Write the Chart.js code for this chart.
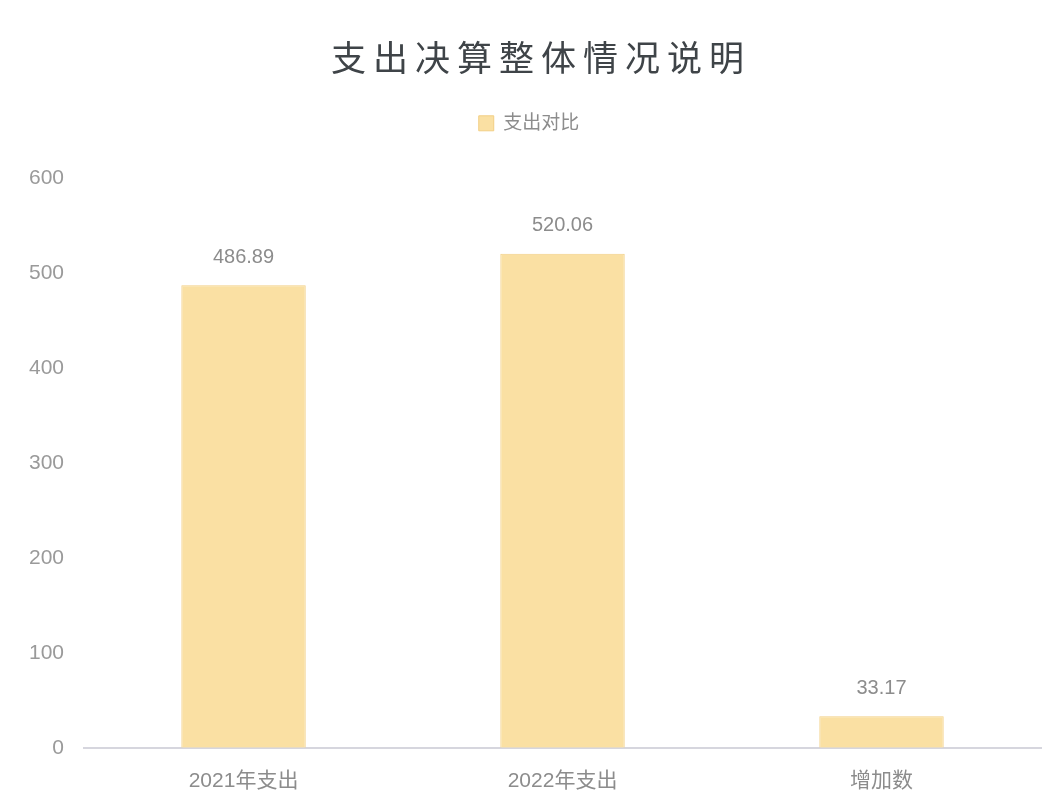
<!DOCTYPE html>
<html>
<head>
<meta charset="utf-8">
<title>支出决算整体情况说明</title>
<script src="https://cdn.jsdelivr.net/npm/chart.js"></script>
<style>
html,body{margin:0;padding:0;background:#fff}
.wrap{width:1061px;height:809px;position:relative}
</style>
</head>
<body>
<div class="wrap"><canvas id="chart"></canvas></div>
<script>
const categories = ['2021年支出', '2022年支出', '增加数'];
const spending = [486.89, 520.06, 33.17];
const yTicks = [0, 100, 200, 300, 400, 500, 600];

const FONT = '"Liberation Sans", "Noto Sans CJK SC", sans-serif';
const TITLE = '支出决算整体情况说明';

// value labels above each bar
const valueLabels = {
  id: 'valueLabels',
  afterDatasetsDraw(chart){
    const ctx = chart.ctx;
    const meta = chart.getDatasetMeta(0);
    ctx.save();
    ctx.font = '20px ' + FONT;
    ctx.fillStyle = '#8c8c8c';
    ctx.textAlign = 'center';
    ctx.textBaseline = 'bottom';
    meta.data.forEach((bar, i) => {
      ctx.fillText(spending[i].toFixed(2), bar.x, bar.y - 18);
    });
    ctx.restore();
  }
};

// title with wider letter spacing, drawn in the title block's box
const spacedTitle = {
  id: 'spacedTitle',
  afterDraw(chart){
    const tb = chart.titleBlock;
    const ctx = chart.ctx;
    ctx.save();
    ctx.font = '35px ' + FONT;
    ctx.letterSpacing = '7px';
    ctx.fillStyle = '#3f4448';
    ctx.textAlign = 'center';
    ctx.textBaseline = 'middle';
    ctx.fillText(TITLE, tb.left + tb.width / 2 + 12, tb.top + 22 + tb.options.padding.top);
    ctx.restore();
  }
};

// extra room under the legend
const legendGap = {
  id: 'legendGap',
  beforeInit(chart){
    const fit = chart.legend.fit;
    chart.legend.fit = function(){
      fit.bind(chart.legend)();
      this.height += 35;
    };
  }
};

const ctx = document.getElementById('chart');
new Chart(ctx, {
  type: 'bar',
  data: {
    labels: categories,
    datasets: [{
      label: '支出对比',
      data: spending,
      backgroundColor: '#fae0a3',
      borderColor: '#f2cf85',
      borderWidth: 1,
      barPercentage: 0.39,
      categoryPercentage: 1
    }]
  },
  options: {
    responsive: true,
    maintainAspectRatio: false,
    animation: false,
    layout: { padding: { left: 17, right: 20, top: 22, bottom: 2 } },
    plugins: {
      title: {
        display: true,
        text: TITLE,
        color: 'rgba(0,0,0,0)',
        font: { family: FONT, size: 34, weight: 'normal' },
        padding: { top: 17, bottom: 24 }
      },
      legend: {
        display: true,
        labels: {
          color: '#8c8c8c',
          font: { family: FONT, size: 19 },
          boxWidth: 15,
          boxHeight: 15,
          padding: 10
        }
      },
      tooltip: { enabled: false }
    },
    scales: {
      x: {
        grid: { display: false },
        border: { display: true, color: '#d6d6de', width: 2 },
        ticks: { color: '#8c8c8c', font: { family: FONT, size: 21 }, padding: 13 }
      },
      y: {
        min: 0,
        max: 600,
        afterBuildTicks(axis){ axis.ticks = yTicks.map(v => ({ value: v })); },
        grid: { display: false },
        border: { display: false },
        ticks: { color: '#9a9a9a', font: { family: FONT, size: 21 }, padding: 12 }
      }
    }
  },
  plugins: [valueLabels, spacedTitle, legendGap]
});
</script>
</body>
</html>
